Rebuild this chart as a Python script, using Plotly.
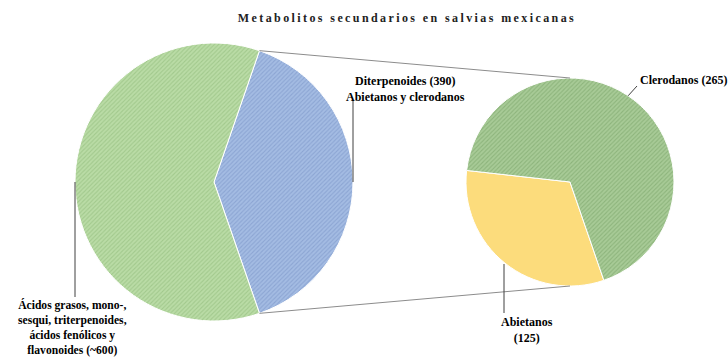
import math

import plotly.graph_objects as go

W, H = 728, 360

# data
main_labels = ["Diterpenoides (390)<br>Abietanos y clerodanos",
               "Ácidos grasos, mono-,<br>sesqui, triterpenoides,<br>ácidos fenólicos y<br>flavonoides (~600)"]
main_values = [390, 600]
sub_labels = ["Abietanos<br>(125)", "Clerodanos (265)"]
sub_values = [125, 265]

# geometry in pixels (center x, center y, radius)
big = (214, 182, 139)
small = (570, 182, 104)

FONT = "Liberation Serif"


def px(x):
    return x / W


def py(y):
    return 1 - y / H


def domain(c):
    cx, cy, r = c
    return {"x": [px(cx - r), px(cx + r)], "y": [py(cy + r), py(cy - r)]}


def edge(c, ang):
    # angle in degrees, clockwise from 12 o'clock
    cx, cy, r = c
    a = math.radians(ang)
    return cx + r * math.sin(a), cy - r * math.cos(a)


big_rot = 90 - 180 * main_values[0] / sum(main_values)
sub_rot = 161

big_colors = ["#A4BCE3", "#BADCA6"]
sub_colors = ["#FCDC7C", "#A8CB97"]

fig = go.Figure()

fig.add_trace(go.Pie(
    labels=main_labels,
    values=main_values,
    sort=False,
    direction="clockwise",
    rotation=big_rot,
    domain=domain(big),
    textinfo="none",
    hoverinfo="label+value",
    marker={
        "colors": big_colors,
        "line": {"color": "white", "width": 1},
        "pattern": {"shape": ["/", "/"], "bgcolor": big_colors,
                    "fgcolor": ["#8CA5D3", "#A2C98D"],
                    "size": 3, "solidity": 0.35},
    },
    showlegend=False,
))

fig.add_trace(go.Pie(
    labels=sub_labels,
    values=sub_values,
    sort=False,
    direction="clockwise",
    rotation=sub_rot,
    domain=domain(small),
    textinfo="none",
    hoverinfo="label+value",
    marker={
        "colors": sub_colors,
        "line": {"color": "white", "width": 1},
        "pattern": {"shape": ["", "/"], "bgcolor": sub_colors,
                    "fgcolor": ["#FCDC7C", "#8DB47C"],
                    "size": 3, "solidity": 0.35},
    },
    showlegend=False,
))

# connector lines between the diterpenoid slice and the secondary pie
a_start = big_rot
a_end = big_rot + 360 * main_values[0] / sum(main_values)
p1 = edge(big, a_start)
p2 = edge(big, a_end)
q1 = edge(small, 0)
q2 = edge(small, 180)
shapes = []
for p, q in [(p1, q1), (p2, q2)]:
    shapes.append(dict(type="line", xref="paper", yref="paper",
                       x0=px(p[0]), y0=py(p[1]), x1=px(q[0]), y1=py(q[1]),
                       line={"color": "#8C8C8C", "width": 1}))

# leader lines
lead = "#404040"
for (x0, y0), (x1, y1) in [
    (edge(big, 270), (75, 297)),
    (edge(big, 90), (353, 100)),
    (edge(small, 34), (637, 86)),
    ((504, 264), (504, 313)),
]:
    shapes.append(dict(type="line", xref="paper", yref="paper",
                       x0=px(x0), y0=py(y0), x1=px(x1), y1=py(y1),
                       line={"color": lead, "width": 1}))

lab_font = {"family": FONT, "size": 12, "color": "black", "weight": 700}
annotations = [
    dict(text=main_labels[1], x=px(72), y=py(359), xanchor="center", yanchor="bottom",
         font=dict(lab_font, size=11.6)),
    dict(text=main_labels[0], x=px(405), y=py(72), xanchor="center", yanchor="top"),
    dict(text=sub_labels[1], x=px(638), y=py(80), xanchor="left", yanchor="middle"),
    dict(text=sub_labels[0], x=px(527), y=py(313), xanchor="center", yanchor="top"),
]
for a in annotations:
    a.setdefault("font", lab_font)
    a.update(xref="paper", yref="paper", showarrow=False, align="center")

fig.update_layout(
    width=W,
    height=H,
    margin={"l": 0, "r": 0, "t": 0, "b": 0},
    paper_bgcolor="white",
    plot_bgcolor="white",
    title={
        "text": "Metabolitos secundarios en salvias mexicanas",
        "x": px(407), "y": py(18), "xanchor": "center", "yanchor": "middle",
        "font": {"family": FONT, "size": 12, "color": "#222222", "weight": 700},
    },
    shapes=shapes,
    annotations=annotations,
)

fig.write_html(
    "out.html",
    config={"displayModeBar": False},
    post_script=(
        "document.body.style.margin='0';"
        "document.querySelectorAll('.gtitle').forEach(function(e){e.style.letterSpacing='2.4px';});"
    ),
)
